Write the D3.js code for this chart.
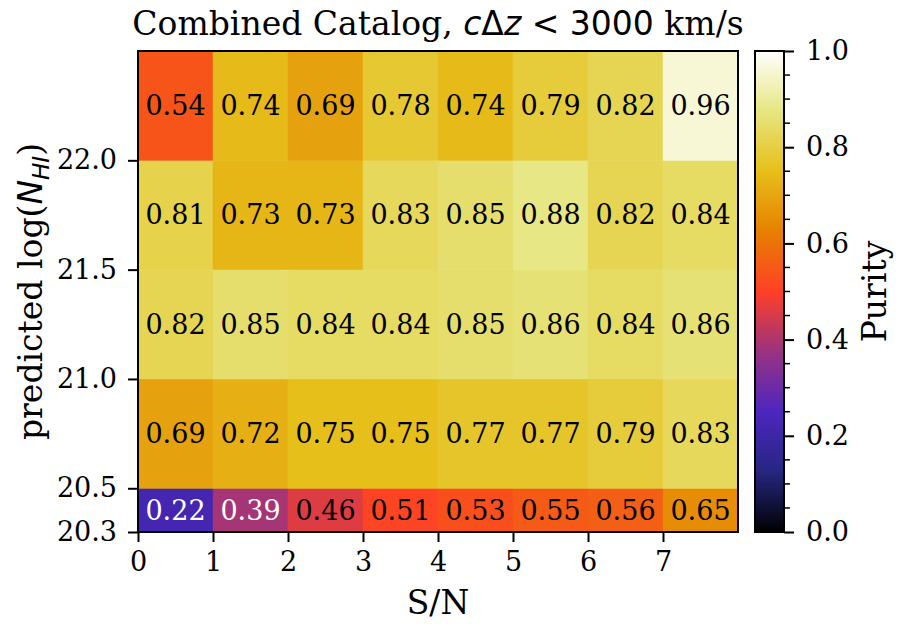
<!DOCTYPE html>
<html>
<head>
<meta charset="utf-8">
<script src="https://cdn.jsdelivr.net/npm/d3@7"></script>
<style>
  body { margin: 0; background: #fff; }
  text { font-family: "DejaVu Serif", serif; fill: #000; }
  .math { font-family: "DejaVu Sans", sans-serif; }
</style>
</head>
<body>
<div class="container"></div>
<script>
// S/N bins and log(N_HI) bins
var snEdges = [0, 1, 2, 3, 4, 5, 6, 7, 8];
var nhiEdges = [20.3, 20.5, 21.0, 21.5, 22.0, 22.5];
var xTicks = [0, 1, 2, 3, 4, 5, 6, 7];
var yTicks = [20.3, 20.5, 21.0, 21.5, 22.0];
var cbTicks = [0, 0.2, 0.4, 0.6, 0.8, 1.0];

// purity, one row per N_HI bin (bottom to top)
var row0 = [0.22, 0.39, 0.46, 0.51, 0.53, 0.55, 0.56, 0.65];
var row1 = [0.69, 0.72, 0.75, 0.75, 0.77, 0.77, 0.79, 0.83];
var row2 = [0.82, 0.85, 0.84, 0.84, 0.85, 0.86, 0.84, 0.86];
var row3 = [0.81, 0.73, 0.73, 0.83, 0.85, 0.88, 0.82, 0.84];
var row4 = [0.54, 0.74, 0.69, 0.78, 0.74, 0.79, 0.82, 0.96];
var purity = [row0, row1, row2, row3, row4];

var W = 900, H = 630;
// note: "top" is reserved on window, so use pl/pr/pt/pb
var pl = 138, pr = 738, pt = 51, pb = 532;
var tickFont = '27px', labelFont = '33px';

var svg = d3.select(".container").append('svg')
  .attr('width', W)
  .attr('height', H);

var x = d3.scaleLinear().domain([0, 8]).range([pl, pr]);
var y = d3.scaleLinear().domain([20.3, 22.5]).range([pb, pt]);

// CMRmap
var cmap = d3.scaleLinear()
  .domain([0, 0.125, 0.25, 0.375, 0.5, 0.625, 0.75, 0.875, 1])
  .range(["rgb(0,0,0)", "rgb(38,38,128)", "rgb(77,38,191)", "rgb(153,51,128)",
          "rgb(255,64,38)", "rgb(230,128,0)", "rgb(230,191,26)", "rgb(230,230,128)",
          "rgb(255,255,255)"])
  .clamp(true);

var cells = [];
purity.forEach(function(row, j){
  row.forEach(function(v, i){
    cells.push({i: i, j: j, v: v});
  });
});

svg.selectAll('rect.cell').data(cells).enter()
  .append('rect').attr('class', 'cell')
  .attr('x', function(d){ return x(snEdges[d.i]); })
  .attr('y', function(d){ return y(nhiEdges[d.j + 1]); })
  .attr('width', function(d){ return x(snEdges[d.i + 1]) - x(snEdges[d.i]); })
  .attr('height', function(d){ return y(nhiEdges[d.j]) - y(nhiEdges[d.j + 1]); })
  .attr('fill', function(d){ return cmap(d.v); })
  .attr('stroke', function(d){ return cmap(d.v); })
  .attr('stroke-width', 0.5);

svg.selectAll('text.val').data(cells).enter()
  .append('text').attr('class', 'val')
  .attr('x', function(d){ return (x(snEdges[d.i]) + x(snEdges[d.i + 1])) / 2; })
  .attr('y', function(d){ return (y(nhiEdges[d.j]) + y(nhiEdges[d.j + 1])) / 2; })
  .attr('text-anchor', 'middle')
  .attr('dominant-baseline', 'central')
  .style('font-size', tickFont)
  .style('fill', function(d){ return d.v < 0.42 ? '#fff' : '#000'; })
  .text(function(d){ return d.v.toFixed(2); });

// axes
var xAxis = d3.axisBottom(x).tickValues(xTicks).tickFormat(d3.format('d'))
  .tickSize(10).tickPadding(10);
var yAxis = d3.axisLeft(y).tickValues(yTicks).tickFormat(d3.format('.1f'))
  .tickSize(10).tickPadding(11);

var gx = svg.append('g').attr('transform', 'translate(0,' + pb + ')').call(xAxis);
var gy = svg.append('g').attr('transform', 'translate(' + pl + ',0)').call(yAxis);
[gx, gy].forEach(function(g){
  g.select('.domain').remove();
  g.selectAll('line').attr('stroke', '#000').attr('stroke-width', 2);
  g.selectAll('text').style('font-size', tickFont).style('font-family', '"DejaVu Serif", serif');
});

svg.append('rect')
  .attr('x', pl).attr('y', pt)
  .attr('width', pr - pl).attr('height', pb - pt)
  .attr('fill', 'none').attr('stroke', '#000').attr('stroke-width', 2);

// title
var title = svg.append('text')
  .attr('x', (pl + pr) / 2).attr('y', 35)
  .attr('text-anchor', 'middle')
  .style('font-size', labelFont);
title.append('tspan').text('Combined Catalog, ');
title.append('tspan').attr('class', 'math').style('font-style', 'italic').text('c');
title.append('tspan').attr('class', 'math').text('\u0394');
title.append('tspan').attr('class', 'math').style('font-style', 'italic').text('z');
title.append('tspan').attr('class', 'math').text(' < 3000');
title.append('tspan').text(' km/s');

// axis labels
svg.append('text')
  .attr('x', (pl + pr) / 2).attr('y', 614)
  .attr('text-anchor', 'middle')
  .style('font-size', labelFont)
  .text('S/N');

var ylab = svg.append('text')
  .attr('transform', 'translate(42,' + ((pt + pb) / 2) + ') rotate(-90)')
  .attr('text-anchor', 'middle')
  .style('font-size', labelFont);
ylab.append('tspan').text('predicted log(');
ylab.append('tspan').attr('class', 'math').style('font-style', 'italic').text('N');
ylab.append('tspan').attr('class', 'math').style('font-style', 'italic')
  .attr('dy', 7).style('font-size', '23px').text('HI');
ylab.append('tspan').attr('dy', -7).text(')');

// colorbar
var cbLeft = 755, cbRight = 784;
var cy = d3.scaleLinear().domain([0, 1]).range([pb, pt]);

var defs = svg.append('defs');
var grad = defs.append('linearGradient').attr('id', 'cbgrad')
  .attr('x1', 0).attr('y1', 1).attr('x2', 0).attr('y2', 0);
grad.selectAll('stop').data(d3.range(0, 1.0001, 0.025)).enter()
  .append('stop')
  .attr('offset', function(d){ return d; })
  .attr('stop-color', function(d){ return cmap(d); });

svg.append('rect')
  .attr('x', cbLeft).attr('y', pt)
  .attr('width', cbRight - cbLeft).attr('height', pb - pt)
  .attr('fill', 'url(#cbgrad)')
  .attr('stroke', '#000').attr('stroke-width', 2);

var cbAxis = d3.axisRight(cy).tickValues(cbTicks).tickFormat(d3.format('.1f'))
  .tickSize(10).tickPadding(12);
var gcb = svg.append('g').attr('transform', 'translate(' + cbRight + ',0)').call(cbAxis);
gcb.select('.domain').remove();
gcb.selectAll('line').attr('stroke', '#000').attr('stroke-width', 2);
gcb.selectAll('text').style('font-size', tickFont).style('font-family', '"DejaVu Serif", serif');

var minor = d3.range(0.05, 1, 0.05).filter(function(d){ return Math.abs(d * 5 - Math.round(d * 5)) > 0.01; });
svg.selectAll('line.minor').data(minor).enter()
  .append('line').attr('class', 'minor')
  .attr('x1', cbRight).attr('x2', cbRight + 6)
  .attr('y1', function(d){ return cy(d); })
  .attr('y2', function(d){ return cy(d); })
  .attr('stroke', '#000').attr('stroke-width', 1.5);

svg.append('text')
  .attr('transform', 'translate(886,' + ((pt + pb) / 2) + ') rotate(-90)')
  .attr('text-anchor', 'middle')
  .style('font-size', labelFont)
  .text('Purity');
</script>
</body>
</html>
